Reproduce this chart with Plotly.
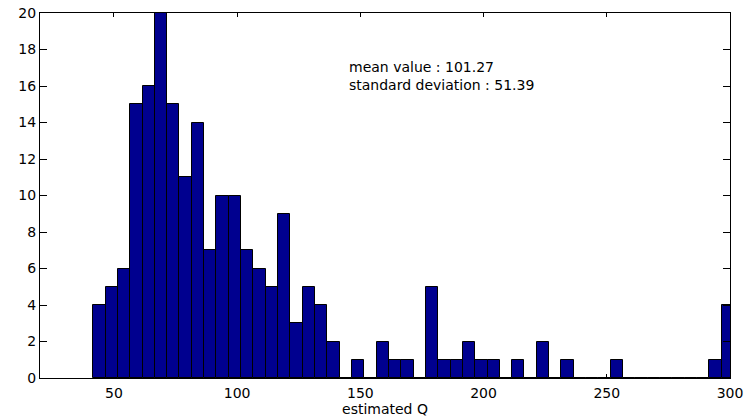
import numpy as np
import plotly.graph_objects as go

# Histogram data (bins of width 5, first edge ~41.6)
bin_start = 41.6
bin_width = 5.0
counts = [4, 5, 6, 15, 16, 20, 15, 11, 14, 7,
          10, 10, 7, 6, 5, 9, 3, 5, 4, 2,
          0, 1, 0, 2, 1, 1, 0, 5, 1, 1,
          2, 1, 1, 0, 1, 0, 2, 0, 1, 0,
          0, 0, 1, 0, 0, 0, 0, 0, 0, 0,
          1, 4]
x_ticks = [50, 100, 150, 200, 250, 300]
y_ticks = [0, 2, 4, 6, 8, 10, 12, 14, 16, 18, 20]
stats_lines = ["mean value : 101.27", "standard deviation : 51.39"]

centers = bin_start + bin_width * (np.arange(len(counts)) + 0.5)

FONT = "DejaVu Sans"

fig = go.Figure()
fig.add_trace(go.Bar(
    x=centers, y=counts, width=bin_width,
    marker=dict(color="#00008F", line=dict(color="black", width=1)),
    showlegend=False,
))

fig.add_annotation(x=144.5, y=16.55, xref="x", yref="y",
                   text="<br>".join(stats_lines), align="left",
                   showarrow=False, xanchor="left", yanchor="middle",
                   font=dict(family=FONT, size=14, color="black"))

fig.update_layout(
    width=747, height=419,
    margin=dict(l=40, r=17, t=13, b=41, autoexpand=False),
    paper_bgcolor="white", plot_bgcolor="white",
    font=dict(family=FONT, size=14, color="black"),
    bargap=0,
)
fig.update_xaxes(
    range=[20, 300], tickvals=x_ticks, ticks="inside", ticklen=4,
    tickcolor="black", showline=True, linecolor="black", linewidth=1,
    mirror="allticks", showgrid=False, zeroline=False, layer="below traces",
    ticklabelstandoff=2, automargin=False,
    title=dict(text="estimated Q", standoff=3, font=dict(family=FONT, size=14)),
)
fig.update_yaxes(
    range=[0, 20], tickvals=y_ticks, ticks="inside", ticklen=7,
    tickcolor="black", showline=True, linecolor="black", linewidth=1,
    mirror="allticks", showgrid=False, zeroline=False, automargin=False,
)

fig.write_html("out.html")
